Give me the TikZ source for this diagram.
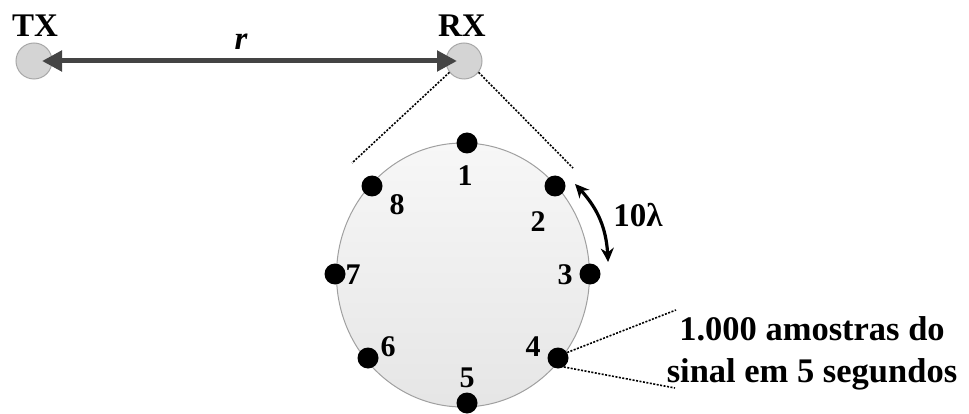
\documentclass[tikz,border=0pt]{standalone}
\usepackage{fontspec}
\setmainfont{Liberation Serif}
\usetikzlibrary{arrows.meta,bending,shapes.geometric}
\definecolor{smallfill}{HTML}{D4D4D4}
\definecolor{smalledge}{HTML}{A8A8A8}
\definecolor{bigfill}{HTML}{EBEBEB}
\definecolor{bigedge}{HTML}{A0A0A0}
\definecolor{arrowgray}{HTML}{444444}
\tikzset{
  station/.style={circle, minimum size=36pt, inner sep=0pt, fill=smallfill, draw=smalledge, line width=1pt},
  elem/.style={circle, minimum size=21pt, inner sep=0pt, fill=black},
  numlabel/.style={inner sep=0pt, font=\bfseries\fontsize{30}{34}\selectfont},
  biglabel/.style={inner sep=0pt, font=\bfseries\fontsize{33}{38}\selectfont},
  zoomline/.style={dash pattern=on 2pt off 1.5pt, line width=1.6pt, black},
}
\begin{document}
\begin{tikzpicture}[x=1pt,y=-1pt]
\useasboundingbox (0,0) rectangle (969,414);
% big array circle
\node[ellipse, draw=bigedge, line width=1pt, top color=bigfill!40!white, bottom color=bigfill!95!gray, minimum width=253pt, minimum height=264pt, inner sep=0pt] (array) at (463,275) {};
% stations
\node[station] (tx) at (34,61) {};
\node[station] (rx) at (464,61) {};
\node[biglabel] (txl) at (35,26) {TX};
\node[biglabel] (rxl) at (462,26) {RX};
\draw[arrowgray, line width=5pt, {Triangle[length=20pt,width=20pt]}-{Triangle[length=20pt,width=20pt]}, shorten <=8pt, shorten >=7pt] (tx.center) -- (rx.center);
\node[inner sep=0pt, font=\bfseries\itshape\fontsize{33}{38}\selectfont] (rl) at (241,42) {r};
% zoom lines
\coordinate (zl) at (352,163);
\coordinate (zr) at (573,168);
\draw[zoomline] (rx.218) -- (zl);
\draw[zoomline] (rx.322) -- (zr);
% elements
\node[elem] (d1) at (467,143) {};
\node[elem] (d2) at (555,186) {};
\node[elem] (d3) at (590,274) {};
\node[elem] (d4) at (558,358) {};
\node[elem] (d5) at (467,403) {};
\node[elem] (d6) at (368,358) {};
\node[elem] (d7) at (335,274) {};
\node[elem] (d8) at (372,186) {};
\node[numlabel] (n1) at (465,176) {1};
\node[numlabel] (n2) at (538,222) {2};
\node[numlabel] (n3) at (565,275) {3};
\node[numlabel] (n4) at (533,347) {4};
\node[numlabel] (n5) at (467,378) {5};
\node[numlabel] (n6) at (388,347) {6};
\node[numlabel] (n7) at (353,275) {7};
\node[numlabel] (n8) at (397,205) {8};
% spacing arrow
\coordinate (sa) at (575,184);
\coordinate (sb) at (608,262);
\draw[line width=3.2pt, {Stealth[length=14pt,width=13pt,bend]}-{Stealth[length=14pt,width=13pt,bend]}] (sa) to[bend left=22] (sb);
\node[biglabel] (lam) at (638,215) {10λ};
% sampling annotation
\coordinate (ta) at (676,310);
\coordinate (tb) at (675,388);
\draw[zoomline] (d4.31) -- (ta);
\draw[zoomline] (d4.-57) -- (tb);
\node[inner sep=0pt, align=center, font=\bfseries\fontsize{34.5}{42}\selectfont] (samp) at (812,353) {1.000 amostras do\\sinal em 5 segundos};
\end{tikzpicture}
\end{document}
